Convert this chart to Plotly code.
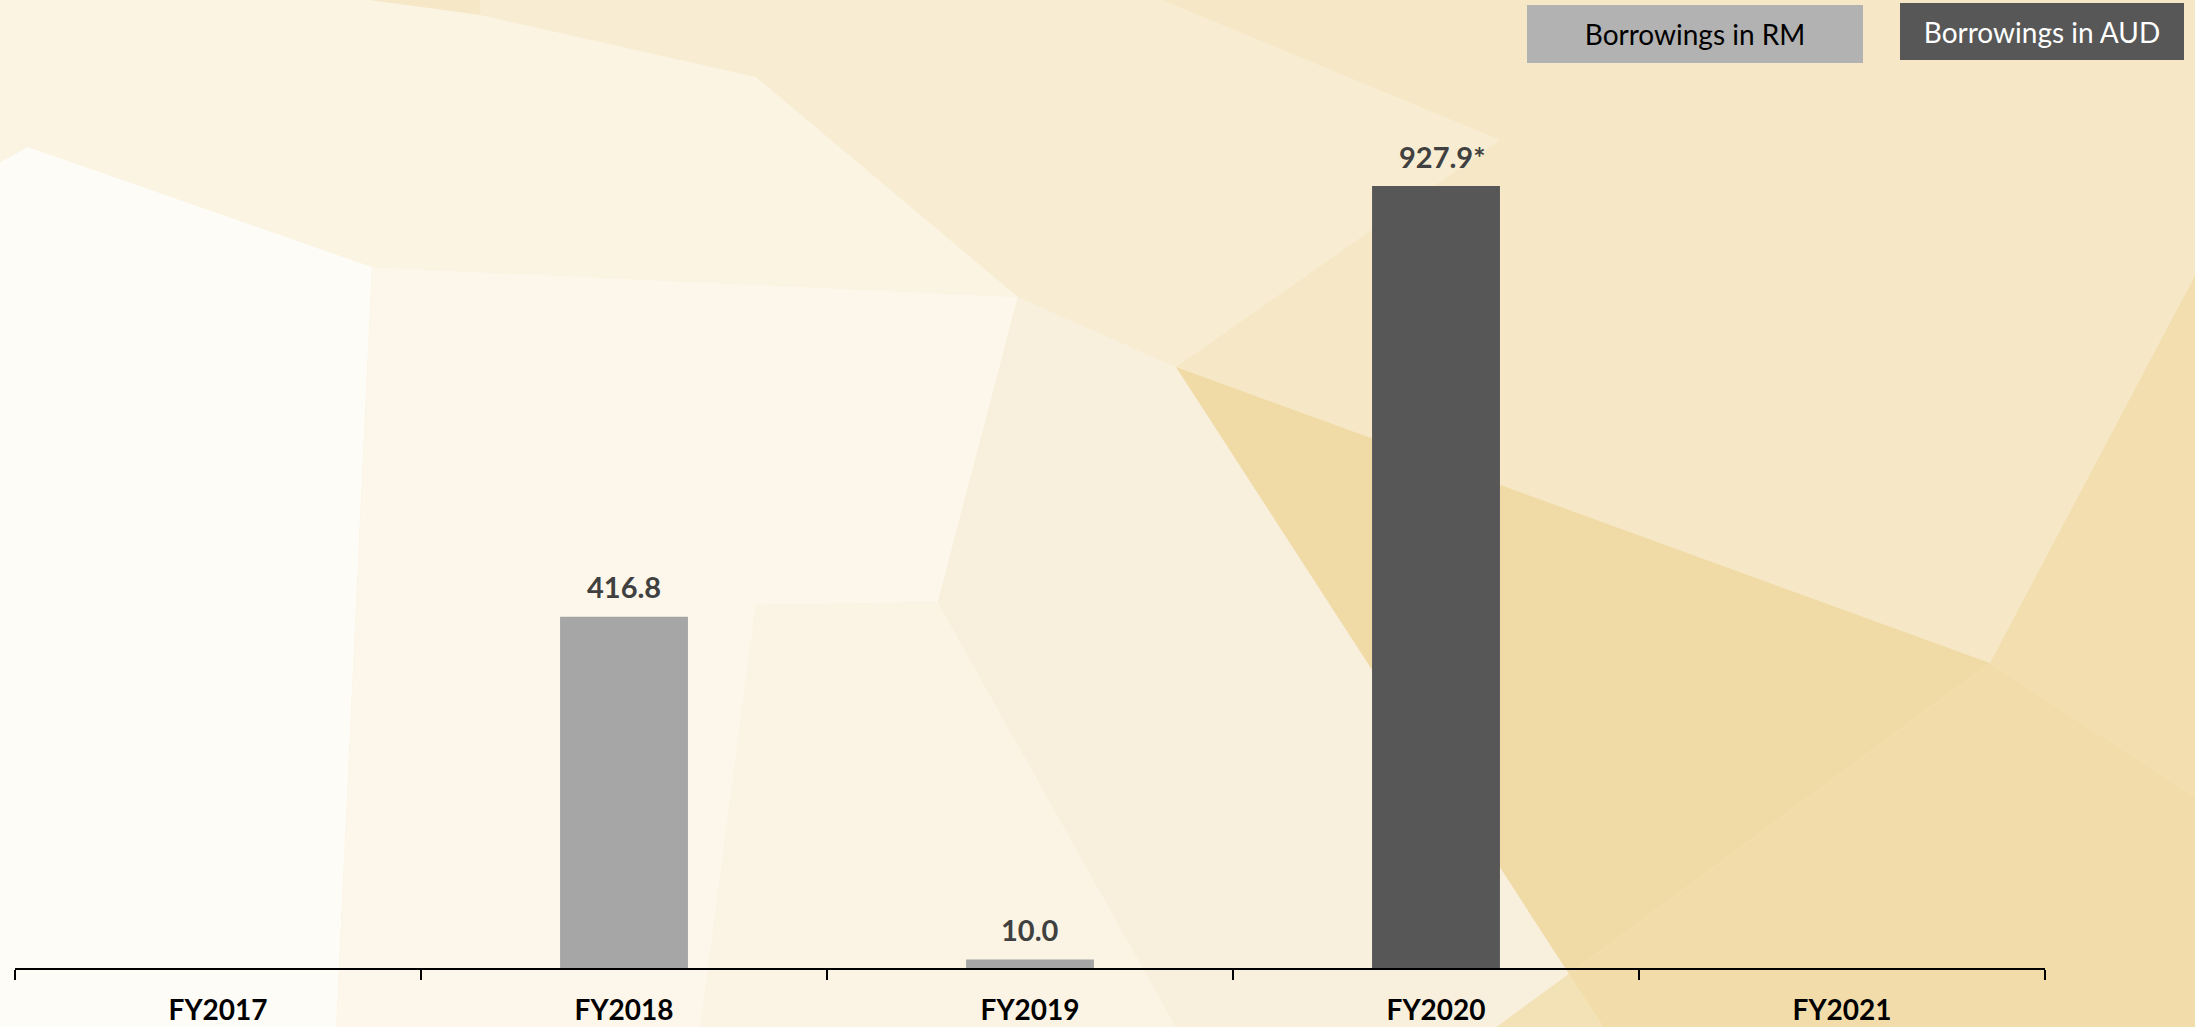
import plotly.graph_objects as go

# ---- data ----
years = ["FY2017", "FY2018", "FY2019", "FY2020", "FY2021"]
borrow_rm = [None, 416.8, 10.0, None, None]
borrow_aud = [None, None, None, 927.9, None]
label_notes = {"FY2020": "*"}

# ---- page geometry ----
W, H = 2195, 1027
ML, MR, MT, MB = 15, 150, 41, 59
PW, PH = W - ML - MR, H - MT - MB

RM_COLOR = "#A6A6A6"
AUD_COLOR = "#575757"
LABEL_FONT = "Lato, 'Open Sans', sans-serif"


def px_to_paper(x, y):
    """Convert page pixel coordinates (origin top-left) to paper coordinates."""
    return (x - ML) / PW, (H - MB - y) / PH


def poly_path(points):
    parts = []
    for i, (x, y) in enumerate(points):
        px, py = px_to_paper(x, y)
        parts.append(("M" if i == 0 else "L") + f"{px:.5f},{py:.5f}")
    return " ".join(parts) + " Z"


# low-poly golden backdrop, vertices in page pixels
backdrop = [
    # top band
    ([(332, -5), (480, 15), (756, 77), (1018, 297), (1176, 367), (1990, 663),
      (2200, 266), (2200, -5)], "#F6E8C7"),
    # lighter wedge inside the top band
    ([(756, 77), (1018, 297), (1176, 367), (1500, 140), (1150, -5), (480, -5), (480, 15)], "#F8EDD2"),
    # upper-left cream
    ([(-5, -5), (332, -5), (480, 15), (756, 77), (1018, 297), (372, 267), (28, 147), (-5, 165)], "#FBF4E3"),
    # far-left white
    ([(-5, 165), (28, 147), (372, 267), (336, 1032), (-5, 1032)], "#FEFCF7"),
    # middle light
    ([(372, 267), (1018, 297), (938, 602), (756, 605), (700, 1032), (336, 1032)], "#FCF7EA"),
    # lower middle
    ([(756, 605), (938, 602), (1179, 1032), (700, 1032)], "#FBF4E4"),
    # pale strip left of the dark wedge
    ([(1018, 297), (1176, 367), (1607, 1032), (1179, 1032), (938, 602)], "#F8EFDC"),
    # dark wedge
    ([(1176, 367), (1990, 663), (1569, 974)], "#F0DAA6"),
    # right of the ridge
    ([(1990, 663), (2200, 266), (2200, 800)], "#F2DEAE"),
    # lower right
    ([(1990, 663), (2200, 800), (2200, 1032), (1490, 1032), (1569, 974)], "#F2DDAA"),
    # bottom sliver
    ([(1569, 974), (1490, 1032), (1607, 1032)], "#F3E2B6"),
]

shapes = [
    dict(type="path", xref="paper", yref="paper", path=poly_path(pts),
         fillcolor=col, line=dict(width=0), layer="below")
    for pts, col in backdrop
]

fig = go.Figure()
fig.add_trace(go.Bar(x=years, y=borrow_rm, name="Borrowings in RM",
                     marker=dict(color=RM_COLOR, line=dict(width=0)),
                     width=0.315, hoverinfo="skip", showlegend=False))
fig.add_trace(go.Bar(x=years, y=borrow_aud, name="Borrowings in AUD",
                     marker=dict(color=AUD_COLOR, line=dict(width=0)),
                     width=0.315, hoverinfo="skip", showlegend=False))

annotations = []
for series in (borrow_rm, borrow_aud):
    for yr, v in zip(years, series):
        if v is None:
            continue
        note = label_notes.get(yr, "")
        annotations.append(dict(
            x=yr, y=v, xref="x", yref="y", text=f"{v:.1f}{note}",
            showarrow=False, yshift=30, xshift=6 if note else 0,
            yanchor="middle", xanchor="center",
            font=dict(family=LABEL_FONT, size=29, color="#404040", weight="bold"),
        ))

# boxed series keys
keys = [
    ("Borrowings in RM", 1695, 34, 336, 58, "#B2B2B2", "#000000"),
    ("Borrowings in AUD", 2042, 31.5, 284, 57, AUD_COLOR, "#FFFFFF"),
]
for text, cx, cy, bw, bh, bg, fg in keys:
    px, py = px_to_paper(cx, cy)
    annotations.append(dict(
        x=px, y=py, xref="paper", yref="paper", text=text, showarrow=False,
        xanchor="center", yanchor="middle", width=bw, height=bh,
        bgcolor=bg, borderpad=0, borderwidth=0, align="center", valign="middle",
        font=dict(family=LABEL_FONT, size=28, color=fg),
    ))

fig.update_layout(
    width=W, height=H,
    margin=dict(l=ML, r=MR, t=MT, b=MB, pad=0, autoexpand=False),
    paper_bgcolor="#F8EDD3",
    plot_bgcolor="rgba(0,0,0,0)",
    barmode="overlay",
    shapes=shapes,
    annotations=annotations,
    showlegend=False,
    xaxis=dict(
        type="category", range=[-0.5, 4.5], showgrid=False, zeroline=False,
        showline=True, linecolor="#000000", linewidth=2, automargin=False,
        ticks="outside", tickson="boundaries", ticklen=10, tickwidth=1.5,
        tickcolor="#000000", ticklabelstandoff=16,
        tickfont=dict(family=LABEL_FONT, size=28, color="#000000", weight="bold"),
        fixedrange=True,
    ),
    yaxis=dict(range=[0, 1100], visible=False, showgrid=False, zeroline=False,
               automargin=False, fixedrange=True),
)

fig.write_html("out.html")
